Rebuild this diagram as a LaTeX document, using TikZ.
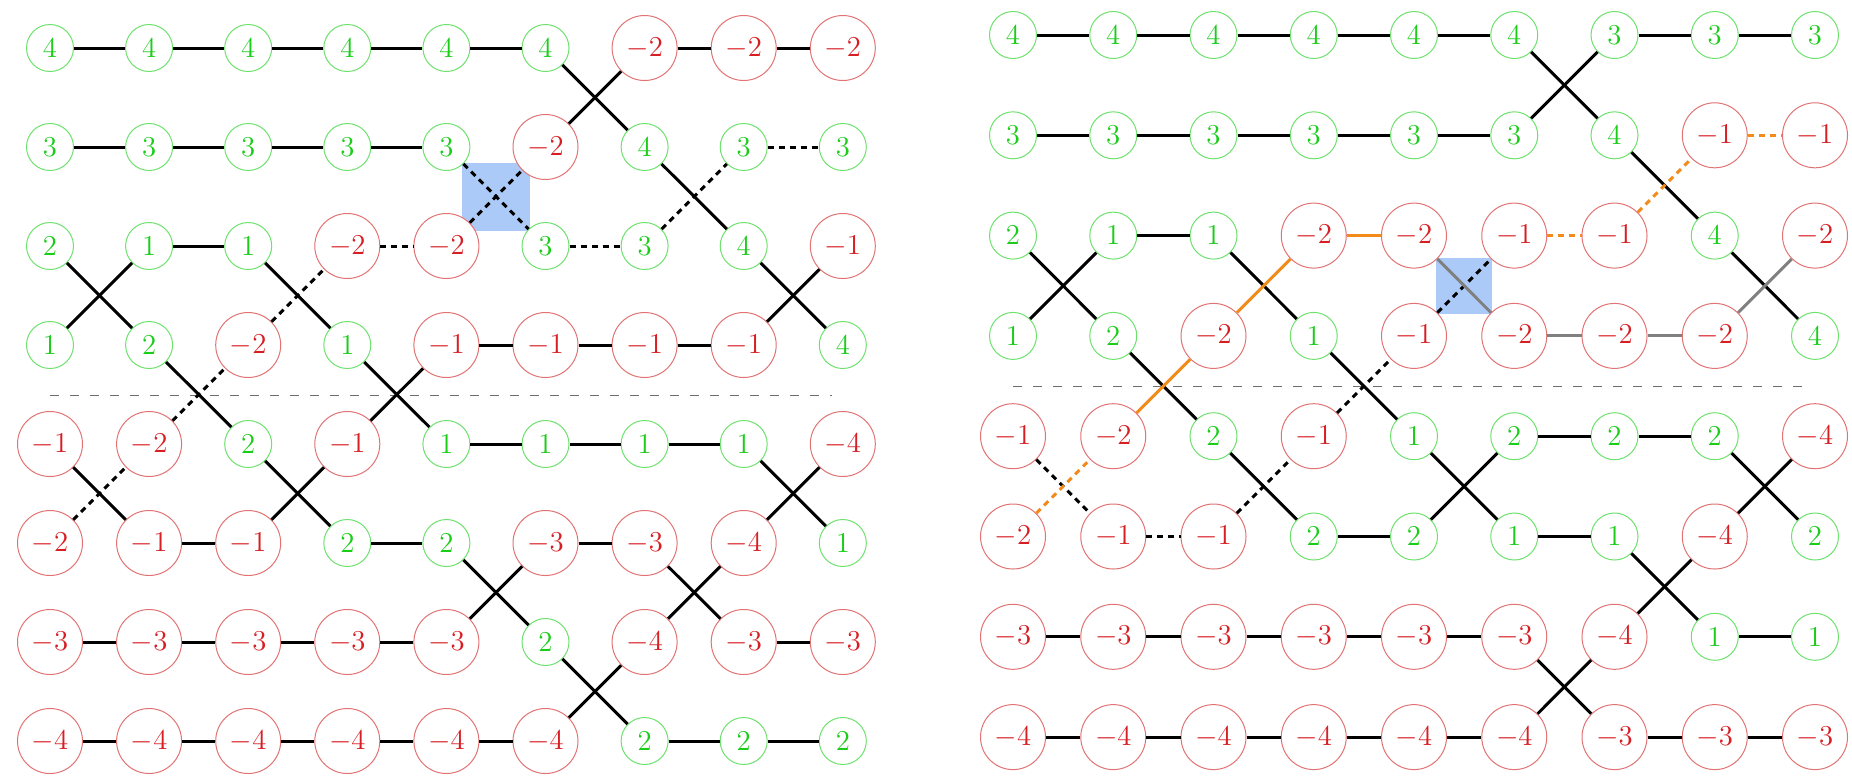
\documentclass[tikz,border=0pt]{standalone}
\usetikzlibrary{backgrounds,calc}
\definecolor{gtext}{RGB}{25,205,25}
\definecolor{gline}{RGB}{110,225,110}
\definecolor{rtext}{RGB}{215,30,35}
\definecolor{rline}{RGB}{225,115,115}
\definecolor{orng}{RGB}{242,138,28}
\definecolor{sqblue}{RGB}{172,202,248}
\definecolor{sepgray}{RGB}{110,110,110}
\definecolor{edgegray}{RGB}{128,128,128}
\tikzset{
  base/.style={circle,fill=white,inner sep=0pt,line width=0.5pt,font=\fontsize{15}{17}\selectfont},
  gnode/.style={base,draw=gline,text=gtext,minimum size=23.5pt},
  rnode/.style={base,draw=rline,text=rtext,minimum size=32.5pt},
  nd/.code={\ifnum#1<0 \pgfkeysalso{/tikz/rnode}\else\pgfkeysalso{/tikz/gnode}\fi},
  e/.style={line width=1.5pt,draw=black},
  ed/.style={e,dash pattern=on 3pt off 2.5pt},
  eo/.style={e,draw=orng},
  eod/.style={eo,dash pattern=on 3pt off 2.5pt},
  eg/.style={e,draw=edgegray},
  sepline/.style={draw=sepgray,line width=0.5pt,dash pattern=on 4.5pt off 5.5pt},
  sq/.style={fill=sqblue}
}
\newcommand{\placerow}[6]{%
  \foreach \v [count=\c from 0] in {#6} {
    \node[nd=\v] (#1-#2-\c) at ({#3+\c*#4},#5) {$\v$};
  }}
\begin{document}
\begin{tikzpicture}[x=0.5pt,y=-0.5pt]
\useasboundingbox (0,0) rectangle (1852,778);
% ---------- left diagram ----------
\placerow{L}{0}{50}{99.1}{48}{4,4,4,4,4,4,-2,-2,-2}
\placerow{L}{1}{50}{99.1}{147}{3,3,3,3,3,-2,4,3,3}
\placerow{L}{2}{50}{99.1}{246}{2,1,1,-2,-2,3,3,4,-1}
\placerow{L}{3}{50}{99.1}{345}{1,2,-2,1,-1,-1,-1,-1,4}
\placerow{L}{4}{50}{99.1}{444}{-1,-2,2,-1,1,1,1,1,-4}
\placerow{L}{5}{50}{99.1}{543}{-2,-1,-1,2,2,-3,-3,-4,1}
\placerow{L}{6}{50}{99.1}{642}{-3,-3,-3,-3,-3,2,-4,-3,-3}
\placerow{L}{7}{50}{99.1}{741}{-4,-4,-4,-4,-4,-4,2,2,2}
% ---------- right diagram ----------
\placerow{R}{0}{1013}{100.25}{35}{4,4,4,4,4,4,3,3,3}
\placerow{R}{1}{1013}{100.25}{135.3}{3,3,3,3,3,3,4,-1,-1}
\placerow{R}{2}{1013}{100.25}{235.6}{2,1,1,-2,-2,-1,-1,4,-2}
\placerow{R}{3}{1013}{100.25}{335.9}{1,2,-2,1,-1,-2,-2,-2,4}
\placerow{R}{4}{1013}{100.25}{436.2}{-1,-2,2,-1,1,2,2,2,-4}
\placerow{R}{5}{1013}{100.25}{536.5}{-2,-1,-1,2,2,1,1,-4,2}
\placerow{R}{6}{1013}{100.25}{636.8}{-3,-3,-3,-3,-3,-3,-4,1,1}
\placerow{R}{7}{1013}{100.25}{737.1}{-4,-4,-4,-4,-4,-4,-3,-3,-3}
% ---------- background: squares and separators ----------
\coordinate (Lsa) at (50,395);
\coordinate (Lsb) at (832,395);
\coordinate (Rsa) at (1013,386);
\coordinate (Rsb) at (1803,386);
\begin{pgfonlayer}{background}
  \fill[sq] ($(L-1-4)!0.5!(L-2-5)$) +(-34,-34) rectangle +(34,34);
  \fill[sq] ($(R-2-4)!0.5!(R-3-5)$) +(-28,-28) rectangle +(28,28);
  \draw[sepline] (Lsa) -- (Lsb);
  \draw[sepline] (Rsa) -- (Rsb);
\end{pgfonlayer}
% ---------- left edges ----------
\foreach \a/\b in {0-0/0-1,0-1/0-2,0-2/0-3,0-3/0-4,0-4/0-5,0-6/0-7,0-7/0-8,
  1-0/1-1,1-1/1-2,1-2/1-3,1-3/1-4,
  2-1/2-2,
  3-4/3-5,3-5/3-6,3-6/3-7,
  4-4/4-5,4-5/4-6,4-6/4-7,
  5-1/5-2,5-3/5-4,5-5/5-6,
  6-0/6-1,6-1/6-2,6-2/6-3,6-3/6-4,6-7/6-8,
  7-0/7-1,7-1/7-2,7-2/7-3,7-3/7-4,7-4/7-5,7-6/7-7,7-7/7-8,
  0-5/1-6,1-5/0-6,1-6/2-7,2-7/3-8,3-7/2-8,
  2-0/3-1,3-0/2-1,2-2/3-3,3-1/4-2,3-3/4-4,4-3/3-4,
  4-0/5-1,4-2/5-3,5-2/4-3,4-7/5-8,5-7/4-8,
  5-4/6-5,6-4/5-5,5-6/6-7,6-6/5-7,
  6-5/7-6,7-5/6-6}
  \draw[e] (L-\a) -- (L-\b);
\foreach \a/\b in {1-4/2-5,2-4/1-5,2-6/1-7,1-7/1-8,2-3/2-4,2-5/2-6,3-2/2-3,4-1/3-2,5-0/4-1}
  \draw[ed] (L-\a) -- (L-\b);
% ---------- right edges ----------
\foreach \a/\b in {0-0/0-1,0-1/0-2,0-2/0-3,0-3/0-4,0-4/0-5,0-6/0-7,0-7/0-8,
  1-0/1-1,1-1/1-2,1-2/1-3,1-3/1-4,1-4/1-5,
  2-1/2-2,
  4-5/4-6,4-6/4-7,
  5-3/5-4,5-5/5-6,
  6-0/6-1,6-1/6-2,6-2/6-3,6-3/6-4,6-4/6-5,6-7/6-8,
  7-0/7-1,7-1/7-2,7-2/7-3,7-3/7-4,7-4/7-5,7-6/7-7,7-7/7-8,
  0-5/1-6,1-5/0-6,1-6/2-7,2-7/3-8,
  2-0/3-1,3-0/2-1,2-2/3-3,3-1/4-2,3-3/4-4,
  4-2/5-3,4-4/5-5,5-4/4-5,4-7/5-8,5-7/4-8,
  5-6/6-7,6-6/5-7,6-5/7-6,7-5/6-6}
  \draw[e] (R-\a) -- (R-\b);
\foreach \a/\b in {3-4/2-5,4-3/3-4,5-2/4-3,5-1/5-2,4-0/5-1}
  \draw[ed] (R-\a) -- (R-\b);
\foreach \a/\b in {4-1/3-2,3-2/2-3,2-3/2-4}
  \draw[eo] (R-\a) -- (R-\b);
\foreach \a/\b in {5-0/4-1,2-5/2-6,2-6/1-7,1-7/1-8}
  \draw[eod] (R-\a) -- (R-\b);
\foreach \a/\b in {2-4/3-5,3-5/3-6,3-6/3-7,3-7/2-8}
  \draw[eg] (R-\a) -- (R-\b);
\end{tikzpicture}
\end{document}
